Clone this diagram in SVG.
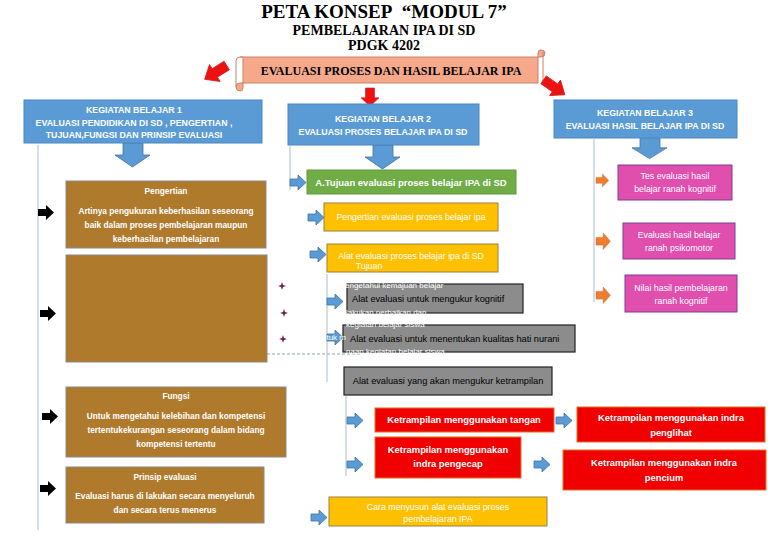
<svg xmlns="http://www.w3.org/2000/svg" width="768" height="543" viewBox="0 0 768 543">
<defs>
<style>
.title{font-family:"Liberation Serif",serif;font-weight:bold;fill:#000;text-anchor:middle}
.kb{fill:#5b9bd5;stroke:#4a86c0;stroke-width:1}
.kbt{font-family:"Liberation Sans",Arial,sans-serif;font-weight:bold;font-size:8.8px;fill:#fff;text-anchor:middle}
.brown{fill:#b07a2c;stroke:#8a8a8a;stroke-width:1}
.bt{font-family:"Liberation Sans",Arial,sans-serif;font-weight:bold;font-size:8.3px;fill:#fff;text-anchor:middle}
.green{fill:#70ad47;stroke:#5f9a3a;stroke-width:1}
.gt{font-family:"Liberation Sans",Arial,sans-serif;font-weight:bold;font-size:9.5px;fill:#fff;text-anchor:middle}
.yellow{fill:#ffc000;stroke:#9a8040;stroke-width:1}
.yt{font-family:"Liberation Sans",Arial,sans-serif;font-size:8.8px;fill:#fff;text-anchor:middle}
.gray{fill:#8c8c8c;stroke:#222;stroke-width:1.2}
.grt{font-family:"Liberation Sans",Arial,sans-serif;font-size:9.2px;fill:#000}
.red{fill:#f00000;stroke:#e07020;stroke-width:1}
.rt{font-family:"Liberation Sans",Arial,sans-serif;font-weight:bold;font-size:9.4px;fill:#fff;text-anchor:middle}
.pink{fill:#e04eae;stroke:#7a3c98;stroke-width:1}
.pt{font-family:"Liberation Sans",Arial,sans-serif;font-size:8.8px;fill:#fff;text-anchor:middle}
.wt{font-family:"Liberation Sans",Arial,sans-serif;font-size:8px;fill:#fff}
.vline{stroke:#b8c8d8;stroke-width:1.2;fill:none}
</style>
<path id="rarrow" d="M0,4 H8 V0 L16,7.5 L8,15 V11 H0 Z"/>
<path id="darrow" d="M8,0 H28 V12 H35 L17.5,24 L0,12 H8 Z"/>
<path id="redarrow" d="M0,5 H14 V0 L26,10 L14,20 V15 H0 Z"/>
<path id="star" d="M0,-4 L1,-1 L4,0 L1,1 L0,4 L-1,1 L-4,0 L-1,-1 Z"/>
</defs>
<rect width="768" height="543" fill="#fff"/>

<g id="title">
<text class="title" x="384" y="18" font-size="19">PETA KONSEP&#160; “MODUL 7”</text>
<text class="title" x="384" y="35" font-size="14">PEMBELAJARAN IPA DI SD</text>
<text class="title" x="384" y="50" font-size="14">PDGK 4202</text>
</g>

<g id="banner">
<path d="M240,57 H541 Q545,57 545,53 Q545,50 541,50 Q538,50 538,53 V83 H240 Q236,83 236,87 Q236,91 240,91 Q243,91 243,88 V57 Z" fill="#f5a98a" stroke="#c7826a" stroke-width="1"/>
<path d="M240,57 Q236,57 236,61 V87" fill="none" stroke="#c7826a" stroke-width="1"/>
<path d="M543,52 V83" fill="none" stroke="#c7826a" stroke-width="1"/>
<text class="title" x="391" y="75" font-size="12">EVALUASI PROSES DAN HASIL BELAJAR IPA</text>
</g>

<g id="red-arrows" fill="#ee1111" stroke="#cc2222" stroke-width="0.8">
<use href="#redarrow" transform="translate(232,74) rotate(148)"/>
<use href="#redarrow" transform="translate(369,88) rotate(90) translate(0,-10) scale(0.7,0.9)"/>
<use href="#redarrow" transform="translate(549,72) rotate(35) scale(1,0.95)"/>
</g>

<g id="connectors">
<line class="vline" x1="38" y1="145" x2="38" y2="530"/>
<line class="vline" x1="290" y1="146" x2="290" y2="190"/>
<line class="vline" x1="327" y1="274" x2="327" y2="382"/>
<line class="vline" x1="346" y1="396" x2="346" y2="476"/>
<line class="vline" x1="594" y1="139" x2="594" y2="302"/>
<line x1="152" y1="354" x2="360" y2="354" stroke="#8fa6bd" stroke-width="1" stroke-dasharray="3,2"/>
<g fill="#5b9bd5" stroke="#41719c" stroke-width="0.8">
<use href="#darrow" transform="translate(115,143)"/>
<use href="#darrow" transform="translate(365,145)"/>
<use href="#darrow" transform="translate(632,137) scale(1,0.9)"/>
<use href="#rarrow" transform="translate(290,175)"/>
<use href="#rarrow" transform="translate(308,210)"/>
<use href="#rarrow" transform="translate(310,247)"/>
<use href="#rarrow" transform="translate(327,294)"/>
<use href="#rarrow" transform="translate(327,330)"/>
<use href="#rarrow" transform="translate(347,413)"/>
<use href="#rarrow" transform="translate(556,413)"/>
<use href="#rarrow" transform="translate(347,457)"/>
<use href="#rarrow" transform="translate(534,457)"/>
<use href="#rarrow" transform="translate(311,510)"/>
</g>
<g fill="#000">
<use href="#rarrow" transform="translate(38,205)"/>
<use href="#rarrow" transform="translate(40,306)"/>
<use href="#rarrow" transform="translate(42,409)"/>
<use href="#rarrow" transform="translate(40,481)"/>
</g>
<g fill="#ed7d31" stroke="#c86a28" stroke-width="0.5">
<use href="#rarrow" transform="translate(596,174) scale(0.8,0.85)"/>
<use href="#rarrow" transform="translate(596,233) scale(0.9,1.1)"/>
<use href="#rarrow" transform="translate(596,287) scale(0.9,1.1)"/>
</g>
<g fill="#6a2050">
<use href="#star" transform="translate(282,286)"/>
<use href="#star" transform="translate(284,313)"/>
<use href="#star" transform="translate(283,339)"/>
</g>
</g>

<g id="kb1">
<rect class="kb" x="24" y="100" width="238" height="43"/>
<text class="kbt" x="134" y="113">KEGIATAN BELAJAR 1</text>
<text class="kbt" x="134" y="126">EVALUASI PENDIDIKAN DI SD , PENGERTIAN ,</text>
<text class="kbt" x="134" y="138">TUJUAN,FUNGSI DAN PRINSIP EVALUASI</text>
</g>
<g id="kb2">
<rect class="kb" x="288" y="104" width="191" height="41"/>
<text class="kbt" x="383" y="122">KEGIATAN BELAJAR 2</text>
<text class="kbt" x="383" y="135">EVALUASI PROSES BELAJAR IPA DI SD</text>
</g>
<g id="kb3">
<rect class="kb" x="554" y="100" width="183" height="38"/>
<text class="kbt" x="645" y="116">KEGIATAN BELAJAR 3</text>
<text class="kbt" x="645" y="129">EVALUASI HASIL BELAJAR IPA DI SD</text>
</g>

<g id="pengertian">
<rect class="brown" x="66" y="181" width="200" height="67"/>
<text class="bt" x="166" y="194">Pengertian</text>
<text class="bt" x="166" y="214">Artinya pengukuran keberhasilan seseorang</text>
<text class="bt" x="166" y="228">baik dalam proses pembelajaran maupun</text>
<text class="bt" x="166" y="242">keberhasilan pembelajaran</text>
</g>
<g id="tujuan-box">
<rect class="brown" x="66" y="255" width="201" height="107"/>
</g>
<g id="fungsi">
<rect class="brown" x="66" y="387" width="220" height="70"/>
<text class="bt" x="176" y="399">Fungsi</text>
<text class="bt" x="176" y="419">Untuk mengetahui kelebihan dan kompetensi</text>
<text class="bt" x="176" y="433">tertentukekurangan seseorang dalam bidang</text>
<text class="bt" x="176" y="447">kompetensi tertentu</text>
</g>
<g id="prinsip">
<rect class="brown" x="66" y="467" width="198" height="56"/>
<text class="bt" x="165" y="480">Prinsip evaluasi</text>
<text class="bt" x="165" y="499">Evaluasi harus di lakukan secara menyeluruh</text>
<text class="bt" x="165" y="513">dan secara terus menerus</text>
</g>

<g id="a-tujuan">
<rect class="green" x="307" y="170" width="209" height="24"/>
<text class="gt" x="411" y="186">A.Tujuan evaluasi proses belajar IPA di SD</text>
</g>
<g id="pengertian-evaluasi">
<rect class="yellow" x="324" y="203" width="174" height="28"/>
<text class="yt" x="411" y="220">Pengertian evaluasi proses belajar ipa</text>
</g>
<g id="alat-evaluasi">
<rect class="yellow" x="327" y="244" width="171" height="28"/>
<text class="yt" x="411" y="259">Alat evaluasi proses belajar ipa di SD</text>
<text class="yt" x="369" y="269">Tujuan</text>
</g>
<g id="kognitif">
<rect class="gray" x="347" y="284" width="176" height="29"/>
<text class="grt" x="352" y="302">Alat evaluasi untuk mengukur kognitif</text>
</g>
<g id="hati-nurani">
<rect class="gray" x="343" y="325" width="232" height="27"/>
<text class="grt" x="350" y="342">Alat evaluasi untuk menentukan kualitas hati nurani</text>
</g>
<g id="tujuan-overlay">
<text class="wt" x="345" y="288">engetahui kemajuan belajar</text>
<text class="wt" x="346" y="315">lakukan perbaikan dan</text>
<text class="wt" x="346" y="327">kegiatan belajar siswa</text>
<text class="wt" x="322" y="340">ntuk m</text>
<text class="wt" x="346" y="354">naan kegiatan belajar siswa</text>
</g>
<g id="ketrampilan">
<rect class="gray" x="344" y="367" width="208" height="28"/>
<text class="grt" x="448" y="384" text-anchor="middle">Alat evaluasi yang akan mengukur ketrampilan</text>
</g>
<g id="tangan">
<rect class="red" x="375" y="408" width="179" height="24"/>
<text class="rt" x="464" y="423">Ketrampilan menggunakan tangan</text>
</g>
<g id="penglihat">
<rect class="red" x="577" y="407" width="188" height="35"/>
<text class="rt" x="671" y="421">Ketrampilan menggunakan indra</text>
<text class="rt" x="671" y="436">penglihat</text>
</g>
<g id="pengecap">
<rect class="red" x="375" y="437" width="146" height="41"/>
<text class="rt" x="448" y="453">Ketrampilan menggunakan</text>
<text class="rt" x="448" y="467">indra pengecap</text>
</g>
<g id="pencium">
<rect class="red" x="563" y="450" width="203" height="40"/>
<text class="rt" x="664" y="466">Ketrampilan menggunakan indra</text>
<text class="rt" x="664" y="481">pencium</text>
</g>
<g id="cara">
<rect class="yellow" x="329" y="497" width="218" height="29"/>
<text class="yt" x="438" y="510">Cara menyusun alat evaluasi proses</text>
<text class="yt" x="438" y="522">pembelajaran IPA</text>
</g>

<g id="tes-kognitif">
<rect class="pink" x="618" y="165" width="114" height="35"/>
<text class="pt" x="675" y="179">Tes evaluasi hasil</text>
<text class="pt" x="675" y="192">belajar ranah kognitif</text>
</g>
<g id="psikomotor">
<rect class="pink" x="623" y="223" width="112" height="36"/>
<text class="pt" x="679" y="238">Evaluasi hasil belajar</text>
<text class="pt" x="679" y="251">ranah psikomotor</text>
</g>
<g id="nilai-kognitif">
<rect class="pink" x="625" y="275" width="112" height="37"/>
<text class="pt" x="681" y="291">Nilai hasil pembelajaran</text>
<text class="pt" x="681" y="304">ranah kognitif</text>
</g>
</svg>
